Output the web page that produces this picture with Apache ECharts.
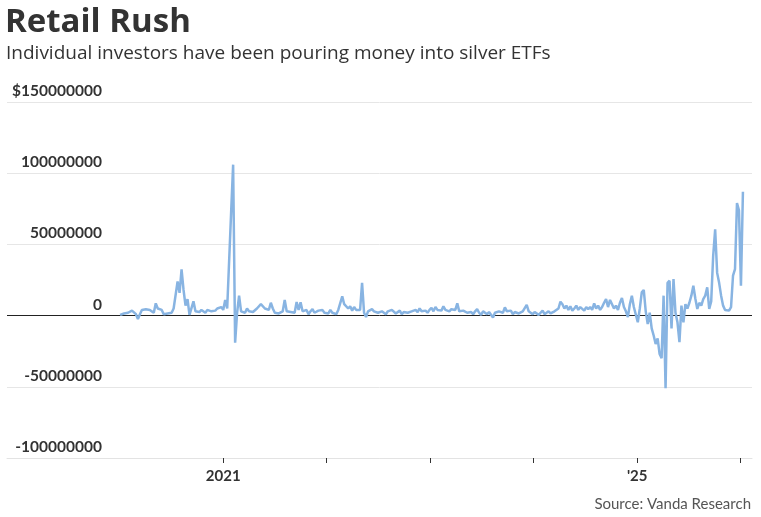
<!DOCTYPE html>
<html><head><meta charset="utf-8">
<script src="https://cdn.jsdelivr.net/npm/echarts@6/dist/echarts.min.js"></script>
<style>html,body{margin:0;padding:0;background:#fff}#c{width:761px;height:517px}</style>
</head><body><div id="c"></div>
<script>
// Weekly net flows into silver ETFs by individual investors, in millions of USD
const START = Date.UTC(2020, 0, 3);
const WEEK = 7 * 86400000;
const v2020 = [0.5, 1, 1.5, 1, 2, 1.5, 3.5, 2.5, 1, -2.5, 1, 4, 3, 4.5, 3.5, 4, 3, 2, 8.6, 5, 6, 4, 1, 0.5, 1.5, 1, 2, 5, 4, 24, 16, 32.5, 18, 7, 11.6, 0.5, 1, 10, 3, 4, 2.5, 4, 3.5, 2, 4, 5, 3, 4, 3.5, 5, 4, 6];
const v2021 = [4, 11, 5, 6, 73, 106, -19, 2, 14, 3, 4, 2, 5, 3, 4, 2.5, 3, 5, 4, 8, 9, 5, 6, 4, 9, 5, 2, 3, 1.5, 2.5, 3, 11, 3, 2, 2.5, 3, 2, 9.5, 4, 9.3, 3, 2, 4, 1, 3, 4.5, 2, 1, 3.5, 2.5, 4, 2];
const v2022 = [3, 1.5, 4, 2, 3, 1, 4, 3, 13.5, 8, 9, 5, 6.5, 3.5, 6, 4, 5, 4, 23, 2, -1, 3, 2, 4.5, 3, 4, 2, 1.5, 3, 2.5, 1, 3, 2, 4, 3, 1.5, 2, 3.5, 1, 2.5, 3, 2, 1.5, 3, 2, 4, 2.5, 5, 3, 2, 3.5, 2];
const v2023 = [4, 5.5, 3, 6, 4, 5, 3.5, 6.5, 4, 5, 3, 4.5, 5.5, 4, 8.6, 3, 2.5, 3.5, 3, 2, 3, 2.5, 1, 3, 4.5, 2, 0.5, 3, 4, 1, 2.5, 3.5, -1.4, 2, 1, 3, 4, 2, 5.8, 3, 2, 3.5, 1, 2.5, 3, 1.5, 2, 3, 4, 7.5, 3, 2];
const v2024 = [1, 2.5, 3, 0.5, 2, 3.5, 1, 2, 3, 1.5, 2.5, 3, 2, 5, 9.8, 8, 5, 7, 4, 6.5, 3.5, 5, 7, 4, 6, 5, 3.5, 6, 4.5, 6, 4, 8.6, 5, 7, 4, 6, 9, 11.6, 6, 11, 8, 5, 7, 4, 9, 12.4, 6, 3, -1, 8, 14, 6];
const v2025 = [5, -4.7, 5, 16.3, 18, 3, -6, 2, -9, -14, -20, -16, -27, -30, 14, -51, 23, 24.5, -9, 25.6, 2, -4.7, -18.6, 7, -4.7, 8, 5, 9, 14, 21, 12, 4.7, 9, 7, 11.6, 14, 19.8, 4.7, 10, 42, 60.6, 30, 23, 14, 7, 4, 5, 3.5, 6, 28, 32.6, 79];
const v2026 = [74, 21, 87];

const yMin = -100000000, yMax = 150000000, yStep = 50000000;
const tickYears = [2021, 2022, 2023, 2024, 2025, 2026];
const labelYears = [2021, 2025];
const labelText = { 2021: '2021', 2025: "'25" };

const values = [].concat(v2020, v2021, v2022, v2023, v2024, v2025, v2026);
const data = values.map((v, i) => [START + i * WEEK, v * 1e6]);
const tickVals = tickYears.map(y => Date.UTC(y, 0, 1));
const labelVals = labelYears.map(y => Date.UTC(y, 0, 1));

const chart = echarts.init(document.getElementById('c'), null, { renderer: 'canvas' });
chart.setOption({
  animation: false,
  backgroundColor: '#fff',
  title: [
    { text: 'Retail Rush', left: 5, top: 3, padding: 0,
      textStyle: { fontFamily: 'Open Sans', fontSize: 33, fontWeight: 'bold', color: '#333', lineHeight: 40 } },
    { text: 'Individual investors have been pouring money into silver ETFs', left: 6, top: 42, padding: 0,
      textStyle: { fontFamily: 'Open Sans', fontSize: 19, fontWeight: 'normal', color: '#333', lineHeight: 24 } },
    { text: 'Source: Vanda Research', right: 10, top: 495, padding: 0,
      textStyle: { fontFamily: 'Lato', fontSize: 15, fontWeight: 'normal', color: '#555', lineHeight: 18 } }
  ],
  grid: { left: 7, right: 9, top: 102, bottom: 59, containLabel: false, outerBoundsMode: 'none' },
  xAxis: {
    type: 'value',
    min: Date.UTC(2018, 10, 30),
    max: Date.UTC(2026, 1, 10),
    axisLine: { show: true, onZero: false, lineStyle: { color: '#e3e3e3', width: 1 } },
    axisTick: { show: true, customValues: tickVals, length: 5, lineStyle: { color: '#333', width: 1 } },
    axisLabel: {
      customValues: labelVals,
      formatter: v => labelText[new Date(v).getUTCFullYear()] || '',
      margin: 11, fontFamily: 'Lato', fontSize: 15, fontWeight: 'bold', color: '#333'
    },
    splitLine: { show: false }
  },
  yAxis: {
    type: 'value', min: yMin, max: yMax, interval: yStep,
    axisLine: { show: false }, axisTick: { show: false },
    axisLabel: {
      inside: true, align: 'right', margin: 95, verticalAlign: 'bottom', lineHeight: 18, padding: [0, 0, 2, 0],
      fontFamily: 'Lato', fontSize: 15.5, fontWeight: 'bold', color: '#333',
      formatter: v => (v === yMax ? '$' : '') + String(v)
    },
    splitLine: { show: true, lineStyle: { width: 1, color: ['#e6e6e6', '#e6e6e6', '#222', '#e6e6e6', '#e6e6e6', '#e6e6e6'] } }
  },
  series: [{
    type: 'line', data: data, showSymbol: false, symbol: 'none',
    lineStyle: { color: '#88b4e2', width: 2.5 }, z: 3
  }]
});
</script></body></html>
